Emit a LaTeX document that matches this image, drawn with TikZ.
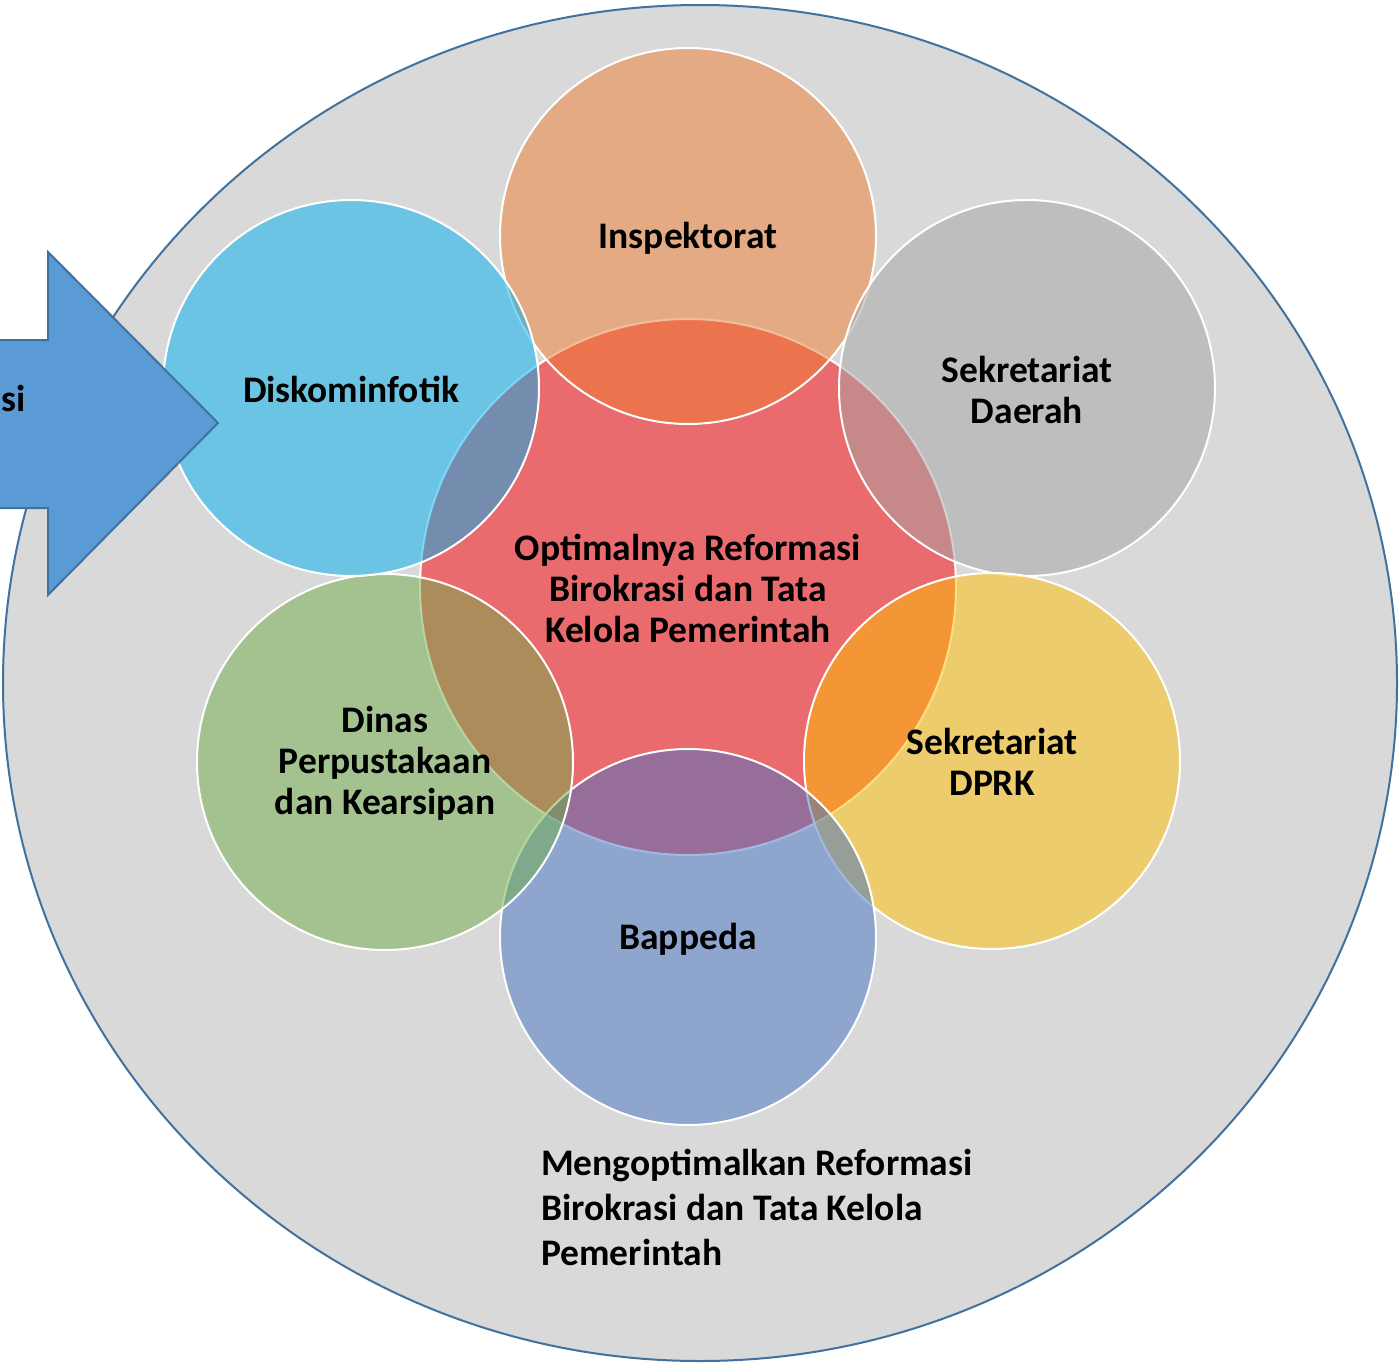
\documentclass[tikz,border=0pt]{standalone}
\usepackage{fontspec}
\setmainfont{Carlito}
\definecolor{bgGrey}{RGB}{217,217,217}
\definecolor{bigEdge}{RGB}{65,113,156}
\definecolor{arrowFill}{RGB}{91,155,213}
\definecolor{ctrC}{RGB}{233,107,110}
\definecolor{inspC}{RGB}{237,125,49}
\definecolor{sekdaC}{RGB}{165,165,165}
\definecolor{dprkC}{RGB}{255,192,0}
\definecolor{bappC}{RGB}{68,114,196}
\definecolor{dinasC}{RGB}{112,173,71}
\definecolor{diskC}{RGB}{0,176,240}
\begin{document}
\begin{tikzpicture}[x=1pt,y=-1pt,
  outercirc/.style={circle, minimum size=376pt, inner sep=0pt, draw=white, line width=2pt, fill opacity=0.5, draw opacity=1},
  lbl/.style={align=center, inner sep=0pt, font=\bfseries\fontsize{37.5}{41}\selectfont, text=black},
  lblb/.style={align=left, inner sep=0pt, font=\bfseries\fontsize{37.5}{45}\selectfont, text=black}]
\clip (0,0) rectangle (1400,1365);
\fill[white] (0,0) rectangle (1400,1365);
\path[fill=bgGrey, draw=bigEdge, line width=2pt] (700,683) ellipse [x radius=697, y radius=678];
% center circle
\node[circle, minimum size=536pt, inner sep=0pt, fill=ctrC, draw=white, line width=2pt] (ctr) at (688,587) {};
% outer circles
\node[outercirc, fill=inspC] (insp) at (688,236) {};
\node[outercirc, fill=sekdaC] (sekda) at (1027,388) {};
\node[outercirc, fill=dprkC] (dprk) at (992,761) {};
\node[outercirc, fill=bappC] (bapp) at (688,937) {};
\node[outercirc, fill=dinasC] (dinas) at (385,762) {};
\node[outercirc, fill=diskC] (disk) at (351,388) {};
% arrow
\path[fill=arrowFill, draw=bigEdge, line width=2pt, line join=miter]
  (-10,340) -- (48,340) -- (48,252) -- (218,423) -- (48,595) -- (48,508) -- (-10,508) -- cycle;
\node[lbl, anchor=base east] (arrtxt) at (26,411) {si};
% labels
\node[lbl] (tctr) at (688,588) {Optimalnya Reformasi\\Birokrasi dan Tata\\Kelola Pemerintah};
\node[lbl] (tinsp) at (688,238) {Inspektorat};
\node[lbl] (tsekda) at (1027,390) {Sekretariat\\Daerah};
\node[lbl] (tdprk) at (992,762) {Sekretariat\\DPRK};
\node[lbl] (tbapp) at (688,939) {Bappeda};
\node[lbl] (tdinas) at (385,763) {Dinas\\Perpustakaan\\dan Kearsipan};
\node[lbl] (tdisk) at (351,389) {Diskominfotik};
\node[lblb, anchor=west] (tbottom) at (541,1207) {Mengoptimalkan Reformasi\\Birokrasi dan Tata Kelola\\Pemerintah};
\end{tikzpicture}
\end{document}
